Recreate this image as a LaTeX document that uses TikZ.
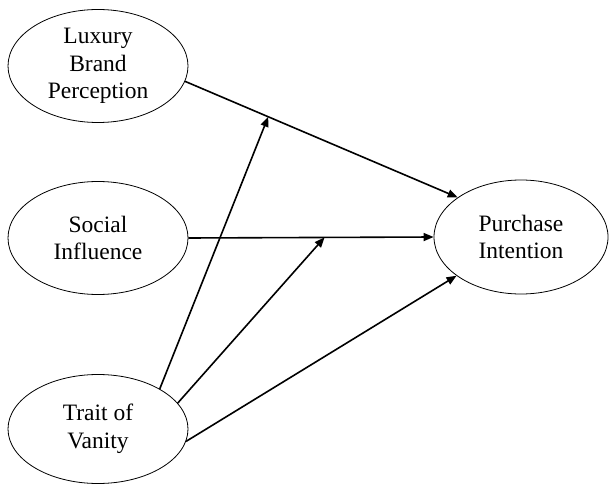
\documentclass[tikz,border=0pt]{standalone}
\usepackage{fontspec}
\setmainfont{Liberation Serif}
\usetikzlibrary{shapes.geometric,arrows.meta,calc}
\begin{document}
\begin{tikzpicture}[x=1pt,y=1pt,
  construct/.style={ellipse,draw,line width=0.8pt,inner sep=0pt,align=center,
    minimum width=180pt,minimum height=113pt,font=\fontsize{23.5}{27.5}\selectfont},
  link/.style={line width=1.6pt,-{Triangle[length=10pt,width=8pt]}}]
\useasboundingbox (0,0) rectangle (609,485);
\node[construct] (lbp) at (98,419) {Luxury\\Brand\\Perception};
\node[construct] (si) at (98,247) {Social\\Influence};
\node[construct,minimum height=109pt] (tv) at (98,56) {Trait of\\Vanity};
\node[construct,minimum width=174pt,minimum height=114pt] (pi) at (521,248) {Purchase\\Intention};
\draw[link] (lbp.-10.7) -- (pi.148.2);
\draw[link] (si.east) -- (pi.west);
\draw[link] (tv.-8.3) -- (pi.211);
\coordinate (m1) at ($(lbp.-10.7)!0.305!(pi.148.2)$);
\coordinate (m2) at ($(si.east)!0.555!(pi.west)$);
\draw[link] (tv.33.5) -- (m1);
\draw[link] (tv.18.7) -- (m2);
\end{tikzpicture}
\end{document}
